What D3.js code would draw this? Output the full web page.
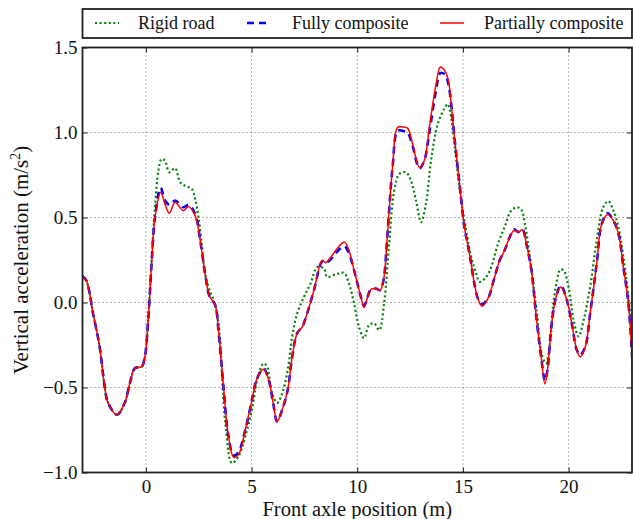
<!DOCTYPE html>
<html>
<head>
<meta charset="utf-8">
<script src="https://cdn.jsdelivr.net/npm/d3@7"></script>
<style>
  body { margin: 0; background: #fff; }
  svg { display: block; }
  text { font-family: "Liberation Serif", "DejaVu Serif", serif; fill: #111; }
</style>
</head>
<body>
<svg id="chart" width="633" height="519"></svg>
<script>
// x = front axle position (m), y = vertical acceleration (m/s^2)
const xPartial = [-3.0, -2.82, -2.5, -2.19, -1.95, -1.79, -1.37, -1.0, -0.76, -0.52, -0.2, -0.05, 0.11, 0.27, 0.43,
  0.70, 0.90, 1.11, 1.38, 1.77, 2.01, 2.33, 2.57, 2.80, 3.0, 3.28, 3.43, 3.67, 3.91, 4.15, 4.38, 4.70, 5.02, 5.26,
  5.57, 5.81, 6.02, 6.21, 6.45, 6.71, 6.92, 7.16, 7.40, 7.63, 7.95, 8.34, 8.50, 8.71, 8.98, 9.22, 9.40, 9.61, 9.85,
  10.01, 10.17, 10.32, 10.49, 10.64, 10.88, 11.08, 11.24, 11.43, 11.67, 11.91, 12.14, 12.38, 12.62, 12.94, 13.17,
  13.41, 13.73, 13.93, 14.16, 14.32, 14.46, 14.60, 14.84, 15.07, 15.22, 15.39, 15.54, 15.71, 15.90, 16.18, 16.50,
  16.74, 16.97, 17.21, 17.42, 17.61, 17.82, 18.0, 18.24, 18.47, 18.72, 18.88, 19.0, 19.2, 19.41, 19.63, 19.92,
  20.15, 20.39, 20.55, 20.79, 21.02, 21.33, 21.57, 21.85, 22.12, 22.36, 22.59, 22.83, 23.05];
const yPartial = [0.154, 0.13, -0.065, -0.26, -0.495, -0.59, -0.66, -0.59, -0.475, -0.387, -0.377, -0.32, -0.10, 0.23, 0.50,
  0.648, 0.58, 0.525, 0.59, 0.54, 0.564, 0.51, 0.365, 0.17, 0.04, -0.016, -0.16, -0.495, -0.79, -0.91, -0.895, -0.75, -0.573, -0.446,
  -0.393, -0.455, -0.59, -0.70, -0.63, -0.514, -0.32, -0.18, -0.143, -0.064, 0.072, 0.248, 0.234, 0.26, 0.306, 0.342, 0.355, 0.306, 0.189,
  0.111, 0.033, -0.03, 0.033, 0.076, 0.082, 0.072, 0.13, 0.404, 0.795, 1.03, 1.033, 1.026, 0.932, 0.795, 0.834,
  1.03, 1.284, 1.385, 1.36, 1.30, 1.15, 0.971, 0.698, 0.443, 0.346, 0.229, 0.111, 0.023, -0.022, 0.023, 0.15,
  0.248, 0.306, 0.384, 0.424, 0.414, 0.428, 0.346, 0.189, -0.084, -0.338, -0.48, -0.397, -0.123, 0.033, 0.091, 0.013,
  -0.123, -0.28, -0.319, -0.26, -0.064, 0.229, 0.463, 0.516, 0.482, 0.404, 0.209, -0.006, -0.42];

const xFull = xPartial;
const yFull = [0.154, 0.13, -0.065, -0.26, -0.495, -0.59, -0.66, -0.59, -0.475, -0.387, -0.377, -0.32, -0.10, 0.23, 0.50,
  0.675, 0.60, 0.575, 0.60, 0.56, 0.575, 0.52, 0.365, 0.17, 0.04, -0.016, -0.16, -0.495, -0.79, -0.90, -0.88, -0.75, -0.573, -0.446,
  -0.39, -0.455, -0.59, -0.70, -0.63, -0.514, -0.32, -0.18, -0.143, -0.064, 0.072, 0.24, 0.234, 0.25, 0.29, 0.32, 0.33, 0.29, 0.189,
  0.111, 0.033, -0.02, 0.033, 0.076, 0.082, 0.072, 0.13, 0.404, 0.795, 1.01, 1.01, 1.00, 0.92, 0.79, 0.834,
  1.00, 1.25, 1.35, 1.34, 1.28, 1.15, 0.971, 0.698, 0.443, 0.346, 0.229, 0.111, 0.023, -0.01, 0.023, 0.15,
  0.248, 0.306, 0.384, 0.43, 0.414, 0.43, 0.346, 0.189, -0.084, -0.338, -0.46, -0.397, -0.123, 0.033, 0.10, 0.013,
  -0.123, -0.28, -0.31, -0.26, -0.064, 0.229, 0.463, 0.525, 0.482, 0.404, 0.209, -0.006, -0.42];

const xRigid = [-3.0, -2.82, -2.5, -2.19, -1.95, -1.79, -1.37, -1.0, -0.76, -0.52, -0.2, -0.05, 0.11, 0.27, 0.43, 0.59,
  0.74, 0.90, 1.11, 1.38, 1.62, 1.85, 2.17, 2.33, 2.49, 2.65, 2.80, 2.96, 3.2, 3.43, 3.76, 4.07, 4.38, 4.70, 5.02,
  5.26, 5.57, 5.73, 5.97, 6.21, 6.45, 6.71, 6.92, 7.16, 7.48, 7.79, 8.11, 8.42, 8.58, 8.98, 9.37, 9.61, 9.85, 10.08,
  10.32, 10.56, 10.80, 11.04, 11.27, 11.51, 11.75, 11.99, 12.30, 12.54, 12.78, 13.02, 13.25, 13.49, 13.81, 14.12,
  14.28, 14.44, 14.67, 14.92, 15.15, 15.39, 15.63, 15.79, 16.1, 16.34, 16.66, 16.97, 17.29, 17.58, 17.77, 17.93,
  18.17, 18.48, 18.76, 18.93, 19.12, 19.28, 19.52, 19.6, 19.76, 20.0, 20.24, 20.47, 20.71, 21.02, 21.33, 21.64,
  21.88, 22.12, 22.36, 22.59, 22.83, 23.05];
const yRigid = [0.154, 0.13, -0.065, -0.26, -0.495, -0.59, -0.66, -0.59, -0.475, -0.387, -0.377, -0.32, -0.10, 0.25, 0.56, 0.775,
  0.844, 0.834, 0.766, 0.79, 0.707, 0.687, 0.668, 0.61, 0.50, 0.326, 0.17, 0.091, 0.013, -0.12, -0.71, -0.944, -0.905, -0.788, -0.63,
  -0.46, -0.358, -0.377, -0.533, -0.59, -0.533, -0.397, -0.20, -0.064, 0.033, 0.111, 0.209, 0.20, 0.15, 0.166, 0.174, 0.111, -0.006, -0.143,
  -0.21, -0.133, -0.123, -0.162, -0.006, 0.346, 0.658, 0.756, 0.766, 0.717, 0.60, 0.472, 0.58, 0.834, 1.05, 1.14,
  1.166, 1.088, 0.853, 0.60, 0.424, 0.267, 0.17, 0.121, 0.15, 0.209, 0.346, 0.443, 0.541, 0.56, 0.545, 0.463,
  0.267, -0.045, -0.319, -0.358, -0.24, -0.006, 0.17, 0.193, 0.189, 0.091, -0.104, -0.20, -0.104, 0.091, 0.365, 0.56,
  0.596, 0.541, 0.443, 0.267, 0.033, -0.28];

const xTicks = [0, 5, 10, 15, 20];
const yTicks = [-1.0, -0.5, 0.0, 0.5, 1.0, 1.5];
const seriesNames = ["Rigid road", "Fully composite", "Partially composite"];

// plot box in pixels ("top" clashes with window.top, so prefixed names)
const plotLeft = 82.5, plotRight = 632, plotTop = 47.5, plotBottom = 472.5;

const svg = d3.select("#chart");

const x = d3.scaleLinear().domain([-3, 23]).range([plotLeft, plotRight]);
const y = d3.scaleLinear().domain([-1.0, 1.5]).range([plotBottom, plotTop]);

svg.append("defs").append("clipPath").attr("id", "plot-clip")
  .append("rect")
  .attr("x", plotLeft).attr("y", plotTop)
  .attr("width", plotRight - plotLeft).attr("height", plotBottom - plotTop);

// grid lines (dotted)
const grid = svg.append("g").attr("class", "grid");
grid.selectAll(".gx")
  .data(xTicks)
  .enter().append("line")
  .attr("x1", d => x(d)).attr("x2", d => x(d))
  .attr("y1", plotTop).attr("y2", plotBottom)
  .attr("stroke", "#666").attr("stroke-width", 1).attr("stroke-dasharray", "1,3");
grid.selectAll(".gy")
  .data(yTicks.slice(1, -1))
  .enter().append("line")
  .attr("x1", plotLeft).attr("x2", plotRight)
  .attr("y1", d => y(d)).attr("y2", d => y(d))
  .attr("stroke", "#666").attr("stroke-width", 1).attr("stroke-dasharray", "1,3");

// series
const series = [
  { xs: xRigid, ys: yRigid, color: "#008000", width: 2.2, dash: "2,2.6" },
  { xs: xFull, ys: yFull, color: "#0000ff", width: 2.6, dash: "7,5" },
  { xs: xPartial, ys: yPartial, color: "#ff0000", width: 1.5, dash: null }
];

const line = d3.line()
  .x(d => x(d[0]))
  .y(d => y(d[1]))
  .curve(d3.curveCatmullRom.alpha(0.5));

svg.append("g")
  .attr("clip-path", "url(#plot-clip)")
  .selectAll("path")
  .data(series)
  .enter().append("path")
  .attr("d", s => line(d3.zip(s.xs, s.ys)))
  .attr("fill", "none")
  .attr("stroke", s => s.color)
  .attr("stroke-width", s => s.width)
  .attr("stroke-dasharray", s => s.dash)
  .attr("stroke-linejoin", "round");

// axes with inward ticks
const fmt = d3.format(".1f");
const xAxis = svg.append("g").attr("transform", `translate(0,${plotBottom})`)
  .call(d3.axisBottom(x).tickValues(xTicks).tickSize(-5).tickPadding(7).tickFormat(d3.format("d")));
const xAxisTop = svg.append("g").attr("transform", `translate(0,${plotTop})`)
  .call(d3.axisTop(x).tickValues(xTicks).tickSize(-5).tickFormat(""));
const yAxis = svg.append("g").attr("transform", `translate(${plotLeft},0)`)
  .call(d3.axisLeft(y).tickValues(yTicks).tickSize(-5).tickPadding(5).tickFormat(fmt));
const yAxisRight = svg.append("g").attr("transform", `translate(${plotRight},0)`)
  .call(d3.axisRight(y).tickValues(yTicks).tickSize(-5).tickFormat(""));

[xAxis, xAxisTop, yAxis, yAxisRight].forEach(a => {
  a.attr("font-family", null);
  a.select(".domain").remove();
  a.selectAll(".tick line").attr("stroke", "#222").attr("stroke-width", 1);
  a.selectAll("text").attr("font-size", 19).attr("fill", "#111")
    .style("font-family", '"Liberation Serif", serif');
});

// frame
svg.append("rect")
  .attr("x", plotLeft).attr("y", plotTop)
  .attr("width", plotRight - plotLeft).attr("height", plotBottom - plotTop)
  .attr("fill", "none").attr("stroke", "#222").attr("stroke-width", 1.8);

// axis labels
svg.append("text")
  .attr("x", (plotLeft + plotRight) / 2).attr("y", 516)
  .attr("text-anchor", "middle").attr("font-size", 20.5)
  .text("Front axle position (m)");

const yl = svg.append("text")
  .attr("transform", `translate(28,${(plotTop + plotBottom) / 2}) rotate(-90)`)
  .attr("text-anchor", "middle").attr("font-size", 21);
yl.append("tspan").text("Vertical acceleration (m/s");
yl.append("tspan").attr("dy", -8).attr("font-size", 14).text("2");
yl.append("tspan").attr("dy", 8).text(")");

// legend
const legend = svg.append("g");
legend.append("rect")
  .attr("x", plotLeft).attr("y", 9)
  .attr("width", plotRight - plotLeft).attr("height", 29)
  .attr("fill", "#fff").attr("stroke", "#222").attr("stroke-width", 1.8);

const legendX = [95, 247, 440];
const items = legend.selectAll(".item")
  .data(series)
  .enter().append("g")
  .attr("transform", (d, i) => `translate(${legendX[i]},23)`);
items.append("line")
  .attr("x1", 0).attr("x2", 24).attr("y1", 0).attr("y2", 0)
  .attr("stroke", s => s.color)
  .attr("stroke-width", s => s.width)
  .attr("stroke-dasharray", s => s.dash);
items.append("text")
  .attr("x", (d, i) => [43, 45, 44][i]).attr("y", 6)
  .attr("font-size", 18)
  .text((d, i) => seriesNames[i]);
</script>
</body>
</html>
